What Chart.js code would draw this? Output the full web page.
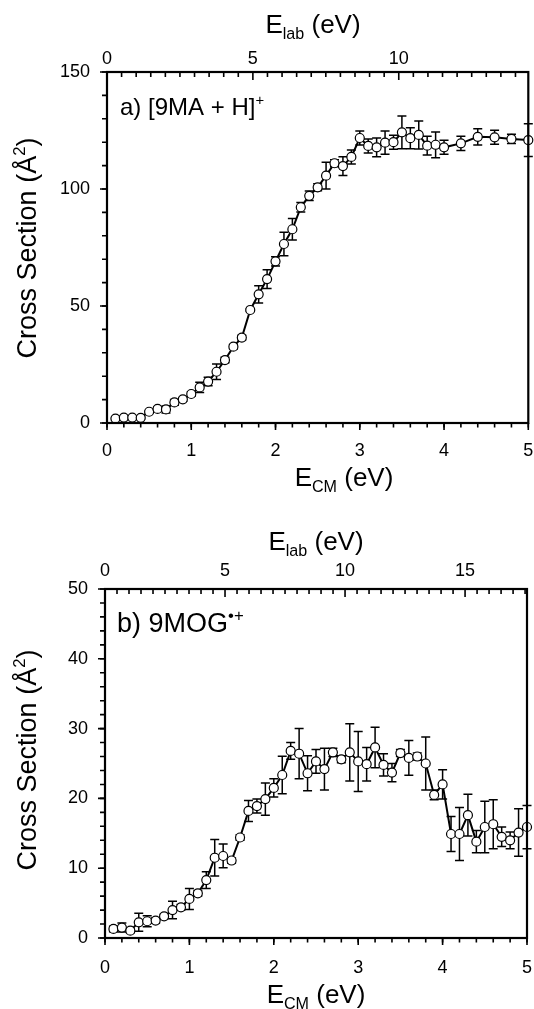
<!DOCTYPE html>
<html>
<head>
<meta charset="utf-8">
<script src="https://cdn.jsdelivr.net/npm/chart.js@4.4.0/dist/chart.umd.min.js"></script>
<style>
html, body { margin: 0; padding: 0; background: #fff; }
#wrap { position: relative; width: 534px; height: 1009px; overflow: hidden; }
canvas { position: absolute; left: 0; }
</style>
</head>
<body>
<div id="wrap">
  <canvas id="panelA" width="534" height="500" style="top:0"></canvas>
  <canvas id="panelB" width="534" height="509" style="top:500px"></canvas>
</div>
<script>
// panel a) [9MA + H]+
const ecmA = [0.1, 0.2, 0.3, 0.4, 0.5, 0.6, 0.7, 0.8, 0.9, 1.0,
              1.1, 1.2, 1.3, 1.4, 1.5, 1.6, 1.7, 1.8, 1.9, 2.0,
              2.1, 2.2, 2.3, 2.4, 2.5, 2.6, 2.7, 2.8, 2.9, 3.0,
              3.1, 3.2, 3.3, 3.4, 3.5, 3.6, 3.7, 3.8, 3.9, 4.0,
              4.2, 4.4, 4.6, 4.8, 5.0];
const sigmaA = [1.9, 2.3, 2.3, 2.2, 4.8, 6.0, 5.8, 8.8, 10.1, 12.4,
                15.2, 17.7, 21.9, 26.9, 32.6, 36.5, 48.3, 55.0, 61.5, 69.1,
                76.5, 82.8, 92.2, 97.1, 100.7, 105.7, 111.0, 109.8, 113.7, 121.8,
                118.4, 117.8, 119.8, 120.0, 124.2, 121.7, 123.1, 118.5, 118.9, 117.8,
                119.5, 122.3, 122.1, 121.4, 120.9];
const errA = [0.5, 0.5, 0.5, 0.5, 0.5, 0.8, 1.5, 1.2, 0.8, 1.0,
              2.2, 1.8, 3.3, 1.2, 1.0, 1.0, 0.5, 3.7, 4.0, 2.0,
              5.0, 4.6, 2.0, 2.0, 1.5, 5.7, 1.5, 4.0, 3.0, 3.0,
              3.0, 4.0, 5.0, 3.0, 7.0, 4.5, 6.0, 4.0, 5.5, 3.0,
              3.0, 3.5, 3.0, 2.0, 7.0];

// panel b) 9MOG•+
const ecmB = [0.1, 0.2, 0.3, 0.4, 0.5, 0.6, 0.7, 0.8, 0.9, 1.0,
              1.1, 1.2, 1.3, 1.4, 1.5, 1.6, 1.7, 1.8, 1.9, 2.0,
              2.1, 2.2, 2.3, 2.4, 2.5, 2.6, 2.7, 2.8, 2.9, 3.0,
              3.1, 3.2, 3.3, 3.4, 3.5, 3.6, 3.7, 3.8, 3.9, 4.0,
              4.1, 4.2, 4.3, 4.4, 4.5, 4.6, 4.7, 4.8, 4.9, 5.0];
const sigmaB = [1.3, 1.5, 1.05, 2.25, 2.4, 2.5, 3.1, 4.0, 4.4, 5.6,
                6.4, 8.3, 11.5, 11.75, 11.1, 14.4, 18.2, 18.9, 19.9, 21.5,
                23.35, 26.8, 26.4, 23.6, 25.3, 24.2, 26.6, 25.6, 26.6, 25.3,
                24.9, 27.3, 24.8, 23.7, 26.5, 25.8, 26.0, 25.0, 20.5, 22.0,
                14.9, 14.9, 17.6, 13.8, 15.9, 16.3, 14.5, 14.0, 15.1, 15.9];
const errB = [0.4, 0.65, 0.3, 1.3, 0.8, 0.4, 0.3, 1.25, 0.4, 1.5,
              0.4, 1.2, 2.6, 1.7, 0.4, 0.4, 1.5, 1.0, 2.3, 1.3,
              2.7, 1.2, 3.6, 2.5, 1.7, 3.0, 0.6, 0.5, 4.1, 4.3,
              2.4, 2.9, 1.6, 1.3, 0.5, 2.5, 0.5, 3.8, 0.7, 2.1,
              2.5, 3.8, 3.0, 1.6, 3.7, 3.5, 1.4, 1.2, 3.4, 3.1];

const FONT = '"Liberation Sans", Arial, sans-serif';
Chart.defaults.font.family = FONT;
Chart.defaults.color = '#000';

// text with sub/superscript parts: [text, 'sub'|'sup'|'']
function rich(ctx, parts, x, y, size, opt) {
  opt = opt || {};
  let w = 0;
  const segs = parts.map(([t, k]) => {
    const s = k ? size * 0.62 : size;
    ctx.font = s + 'px ' + FONT;
    const m = ctx.measureText(t).width;
    w += m;
    return { t, k, s, m };
  });
  ctx.save();
  ctx.translate(x, y);
  if (opt.rot) ctx.rotate(opt.rot);
  ctx.fillStyle = '#000';
  ctx.textAlign = 'left';
  ctx.textBaseline = 'alphabetic';
  let cx = opt.left ? 0 : -w / 2;
  segs.forEach(g => {
    ctx.font = g.s + 'px ' + FONT;
    const dy = g.k === 'sub' ? size * 0.22 : (g.k === 'sup' ? -size * 0.42 : 0);
    ctx.fillText(g.t, cx, dy);
    cx += g.m;
  });
  ctx.restore();
}

function tickMarks(ctx, scale, step, len, horiz, dir) {
  const n = Math.round((scale.max - scale.min) / step);
  ctx.beginPath();
  for (let i = 0; i <= n; i++) {
    const p = scale.getPixelForValue(scale.min + i * step);
    if (horiz) {
      const y0 = dir > 0 ? scale.top : scale.bottom;
      ctx.moveTo(p, y0); ctx.lineTo(p, y0 + dir * len);
    } else {
      ctx.moveTo(scale.right, p); ctx.lineTo(scale.right - len, p);
    }
  }
  ctx.stroke();
}

const deco = {
  id: 'deco',
  beforeDatasetsDraw(chart) {
    const ctx = chart.ctx, ys = chart.scales.y;
    const ds = chart.data.datasets[0];
    const meta = chart.getDatasetMeta(0);
    ctx.save();
    ctx.strokeStyle = '#000';
    ctx.lineWidth = 1.5;
    meta.data.forEach((pt, i) => {
      const v = ds.data[i].y, e = ds.errs[i];
      const y1 = ys.getPixelForValue(v + e), y2 = ys.getPixelForValue(v - e);
      ctx.beginPath();
      ctx.moveTo(pt.x, y1); ctx.lineTo(pt.x, y2);
      ctx.moveTo(pt.x - 4.5, y1); ctx.lineTo(pt.x + 4.5, y1);
      ctx.moveTo(pt.x - 4.5, y2); ctx.lineTo(pt.x + 4.5, y2);
      ctx.stroke();
    });
    ctx.restore();
  },
  afterDraw(chart, args, o) {
    const ctx = chart.ctx, a = chart.chartArea, s = chart.scales;
    ctx.save();
    ctx.strokeStyle = '#000';
    ctx.lineWidth = 2.2;
    ctx.strokeRect(a.left, a.top, a.right - a.left, a.bottom - a.top);
    ctx.lineWidth = 1.6;
    // bottom axis: outward ticks
    tickMarks(ctx, s.x, 1, 7, true, 1);
    tickMarks(ctx, s.x, 0.2, 4.5, true, 1);
    // top axis (E lab): inward ticks
    const t = s.x2;
    const nT = Math.floor(t.max / 0.5 + 1e-6);
    ctx.beginPath();
    for (let i = 0; i <= nT; i++) {
      const p = t.getPixelForValue(i * 0.5);
      ctx.moveTo(p, a.top); ctx.lineTo(p, a.top + (i % 10 === 0 ? 8 : 5));
    }
    ctx.stroke();
    // left axis: outward ticks
    tickMarks(ctx, s.y, o.yMajor, 7, false);
    tickMarks(ctx, s.y, o.yMinor, 5, false);
    ctx.restore();

    o.texts.forEach(tx => rich(ctx, tx.parts, tx.x, tx.y, tx.size, tx));
  }
};

function makePanel(id, xs, ys, errs, cfg) {
  const ctx = document.getElementById(id).getContext('2d');
  const H = ctx.canvas.height;
  return new Chart(ctx, {
    type: 'line',
    data: {
      datasets: [{
        data: xs.map((x, i) => ({ x: x, y: ys[i] })),
        errs: errs,
        borderColor: '#000',
        borderWidth: 2,
        pointRadius: 4.5,
        pointBackgroundColor: '#fff',
        pointBorderColor: '#000',
        pointBorderWidth: 1.2,
        tension: 0,
        clip: false
      }]
    },
    options: {
      responsive: false,
      animation: false,
      layout: { padding: { left: 0, right: 534 - cfg.box.right, top: 0, bottom: 0 } },
      plugins: {
        legend: { display: false },
        tooltip: { enabled: false },
        deco: { yMajor: cfg.yMajor, yMinor: cfg.yMinor, texts: cfg.texts }
      },
      scales: {
        x: {
          type: 'linear', position: 'bottom', min: 0, max: 5,
          grid: { display: false, drawTicks: false }, border: { display: false },
          ticks: { stepSize: 1, padding: cfg.padX, font: { size: 18 }, color: '#000' },
          afterFit(sc) { sc.height = H - cfg.box.bottom; sc.paddingLeft = 0; sc.paddingRight = 0; }
        },
        x2: {
          type: 'linear', position: 'top', display: true, min: 0, max: cfg.labMax,
          grid: { display: false, drawTicks: false }, border: { display: false },
          ticks: { stepSize: 5, includeBounds: false, padding: cfg.padX2, font: { size: 18 }, color: '#000' },
          afterFit(sc) { sc.height = cfg.box.top; sc.paddingLeft = 0; sc.paddingRight = 0; }
        },
        y: {
          type: 'linear', position: 'left', min: 0, max: cfg.yMax,
          grid: { display: false, drawTicks: false }, border: { display: false },
          ticks: { stepSize: cfg.yMajor, padding: cfg.padY, font: { size: 18 }, color: '#000' },
          afterFit(sc) { sc.width = cfg.box.left; sc.paddingTop = 0; sc.paddingBottom = 0; }
        }
      }
    },
    plugins: [deco]
  });
}

makePanel('panelA', ecmA, sigmaA, errA, {
  box: { left: 107, right: 530, top: 72, bottom: 423 },
  yMax: 150, yMajor: 50, yMinor: 10, labMax: 14.44,
  padX: 17, padX2: 2, padY: 17,
  texts: [
    { parts: [['E', ''], ['lab', 'sub'], [' (eV)', '']], x: 313, y: 33, size: 26 },
    { parts: [['E', ''], ['CM', 'sub'], [' (eV)', '']], x: 344, y: 486, size: 26 },
    { parts: [['Cross Section (Å', ''], ['2', 'sup'], [')', '']], x: 36, y: 248, size: 27, rot: -Math.PI / 2 },
    { parts: [['a) [9MA + H]', ''], ['+', 'sup']], x: 120, y: 115, size: 24, left: true }
  ]
});

makePanel('panelB', ecmB, sigmaB, errB, {
  box: { left: 105, right: 527, top: 89, bottom: 438 },
  yMax: 50, yMajor: 10, yMinor: 2, labMax: 17.58,
  padX: 19, padX2: 7, padY: 17,
  texts: [
    { parts: [['E', ''], ['lab', 'sub'], [' (eV)', '']], x: 316, y: 50, size: 26 },
    { parts: [['E', ''], ['CM', 'sub'], [' (eV)', '']], x: 316, y: 503, size: 26 },
    { parts: [['Cross Section (Å', ''], ['2', 'sup'], [')', '']], x: 36, y: 260, size: 27, rot: -Math.PI / 2 },
    { parts: [['b) 9MOG', ''], ['•+', 'sup']], x: 117, y: 132, size: 27, left: true }
  ]
});
</script>
</body>
</html>
